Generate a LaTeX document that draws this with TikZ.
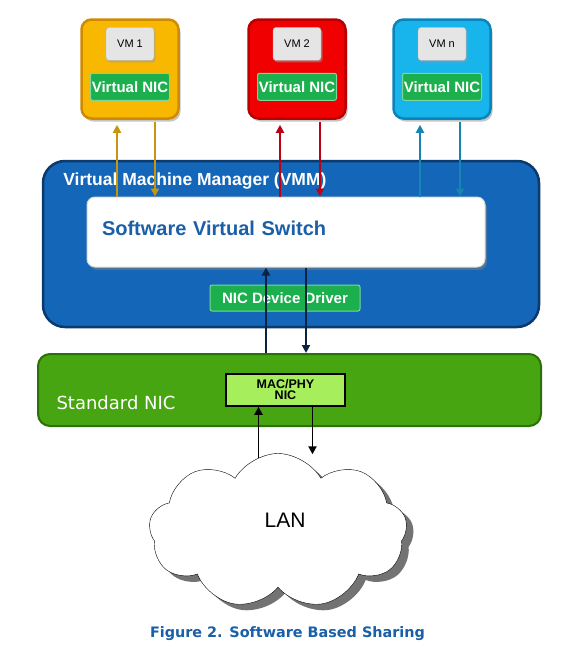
\documentclass[tikz,border=0pt]{standalone}
\usepackage{tikz}
\usepackage{xcolor}
\usepackage{fontspec}
\usetikzlibrary{positioning,shapes.symbols,shadows,arrows.meta}
\newfontfamily\arialfont{Liberation Sans}
\newfontfamily\verdfont{DejaVu Sans}
\definecolor{vmorange}{HTML}{F8B800}
\definecolor{vmorangerim}{HTML}{D08A00}
\definecolor{vmred}{HTML}{F00000}
\definecolor{vmredrim}{HTML}{B80000}
\definecolor{vmcyan}{HTML}{18B4EC}
\definecolor{vmcyanrim}{HTML}{0A84BC}
\definecolor{nicgreen}{HTML}{1BAF4E}
\definecolor{nicgreenrim}{HTML}{7CD89A}
\definecolor{vmmblue}{HTML}{1466B8}
\definecolor{vmmrim}{HTML}{0A3A6E}
\definecolor{stdgreen}{HTML}{46A510}
\definecolor{stdgreenrim}{HTML}{2C7008}
\definecolor{macgreen}{HTML}{A6EE5C}
\definecolor{capblue}{HTML}{1A5FA8}
\definecolor{arrorange}{HTML}{C8960E}
\definecolor{arrred}{HTML}{BE0014}
\definecolor{arrcyan}{HTML}{1784B4}
\definecolor{arrnavy}{HTML}{0B2240}

\begin{document}
\begin{tikzpicture}[x=1pt, y=-1pt,
    vmbox/.style={rectangle, rounded corners=10pt, line width=2.5pt, minimum width=97pt, minimum height=99pt,
      drop shadow={shadow xshift=2pt, shadow yshift=-3pt, fill=black!45}},
    vmlabel/.style={rectangle, rounded corners=3pt, fill=black!10, draw=black!30, inner sep=0pt,
      minimum width=48pt, minimum height=33pt, font=\arialfont\fontsize{11}{13}\selectfont,
      drop shadow={shadow xshift=1.5pt, shadow yshift=-2pt, fill=black!40}},
    vnic/.style={rectangle, rounded corners=2pt, fill=nicgreen, draw=nicgreenrim, line width=1pt, inner sep=0pt,
      text=white, font=\arialfont\bfseries\fontsize{15}{18}\selectfont},
    flow/.style={line width=1.9pt, -{Triangle[length=8pt, width=8pt]}}]
    \fill[white] (0,0) rectangle (567,649);
    \useasboundingbox (0,0) rectangle (567,649);

    \node[vmbox, fill=vmorange, draw=vmorangerim] (vm1) at (130,69) {};
    \node[vmbox, fill=vmred, draw=vmredrim] (vm2) at (297,69) {};
    \node[vmbox, fill=vmcyan, draw=vmcyanrim] (vmn) at (442,69) {};
    \node[vmlabel, below=9pt of vm1.north] (vm1lbl) {VM 1};
    \node[vmlabel, below=9pt of vm2.north] (vm2lbl) {VM 2};
    \node[vmlabel, below=9pt of vmn.north] (vmnlbl) {VM n};
    \node[vnic, minimum width=79pt, minimum height=27pt, above=19pt of vm1.south] (vnic1) {Virtual NIC};
    \node[vnic, minimum width=79pt, minimum height=27pt, above=19pt of vm2.south] (vnic2) {Virtual NIC};
    \node[vnic, minimum width=79pt, minimum height=27pt, above=19pt of vmn.south] (vnicn) {Virtual NIC};

    \node[rectangle, rounded corners=22pt, fill=vmmblue, draw=vmmrim, line width=2.5pt,
      minimum width=496pt, minimum height=166pt] (vmm) at (291,244) {};
    \node[anchor=west, text=white, font=\arialfont\bfseries\fontsize{17.5}{20}\selectfont]
      (vmmlbl) at ([xshift=18pt, yshift=-21pt]vmm.north west) {Virtual Machine Manager (VMM)};
    \node[rectangle, rounded corners=8pt, fill=white, draw=black!15, line width=1pt,
      minimum height=70pt, text width=368pt, inner xsep=15pt, align=left, text depth=8pt,
      text=capblue, font=\arialfont\bfseries\fontsize{20}{24}\selectfont,
      drop shadow={shadow xshift=2pt, shadow yshift=-3pt, fill=black!50}] (sw) at (286,232)
      {Software Virtual Switch};
    \node[vnic, minimum width=150pt, minimum height=26pt] (drv) at (285,298) {NIC Device Driver};

    \node[rectangle, rounded corners=12pt, fill=stdgreen, draw=stdgreenrim, line width=2pt,
      minimum width=503pt, minimum height=72pt] (snic) at (289.5,390) {};
    \node[anchor=west, text=white, font=\verdfont\fontsize{18}{22}\selectfont]
      (snlbl) at ([xshift=16pt, yshift=-13pt]snic.west) {Standard NIC};
    \node[rectangle, fill=macgreen, draw=black, line width=1.5pt, inner sep=0pt, align=center,
      minimum width=119pt, minimum height=32pt, font=\arialfont\bfseries\fontsize{12.5}{11}\selectfont]
      (mac) at (285.5,390) {MAC/PHY\\NIC};

    \node[cloud, cloud puffs=9, cloud puff arc=120, aspect=1.65, draw, fill=white, inner sep=0pt,
      minimum width=258pt, minimum height=155pt,
      drop shadow={shadow xshift=7pt, shadow yshift=-6pt, fill=black!55, opacity=1},
      label={[xshift=7pt, yshift=11pt, font=\arialfont\fontsize{21}{24}\selectfont]center:LAN}]
      (lan) at (278,531) {};

    \node[text=capblue, font=\verdfont\bfseries\fontsize{14.4}{17}\selectfont]
      (cap) at (287.5,634) {Figure 2. Software Based Sharing};

    \coordinate (a1) at ([xshift=-13pt, yshift=-5pt]vm1.south);
    \coordinate (b1) at ([xshift=25pt, yshift=-2pt]vm1.south);
    \coordinate (a2) at ([xshift=-17pt, yshift=-5pt]vm2.south);
    \coordinate (b2) at ([xshift=23pt, yshift=-2pt]vm2.south);
    \coordinate (an) at ([xshift=-22pt, yshift=-5pt]vmn.south);
    \coordinate (bn) at ([xshift=18pt, yshift=-2pt]vmn.south);
    \draw[flow, arrorange] (a1 |- sw.north) -- (a1);
    \draw[flow, arrorange] (b1) -- (b1 |- sw.north);
    \draw[flow, arrred] (a2 |- sw.north) -- (a2);
    \draw[flow, arrred] (b2) -- (b2 |- sw.north);
    \draw[flow, arrcyan] (an |- sw.north) -- (an);
    \draw[flow, arrcyan] (bn) -- (bn |- sw.north);

    \coordinate (d1) at ([xshift=-20pt]sw.south);
    \coordinate (d2) at ([xshift=20pt]sw.south);
    \draw[flow, arrnavy] (d1 |- snic.north) -- (d1);
    \draw[flow, arrnavy] (d2) -- (d2 |- snic.north);

    \coordinate (l1) at ([xshift=-27pt, yshift=-5pt]lan.north -| mac.south);
    \coordinate (l2) at ([xshift=27pt, yshift=-1pt]lan.north -| mac.south);
    \draw[flow, black] (l1) -- (l1 |- mac.south);
    \draw[flow, black] (l2 |- mac.south) -- (l2);
\end{tikzpicture}
\end{document}
